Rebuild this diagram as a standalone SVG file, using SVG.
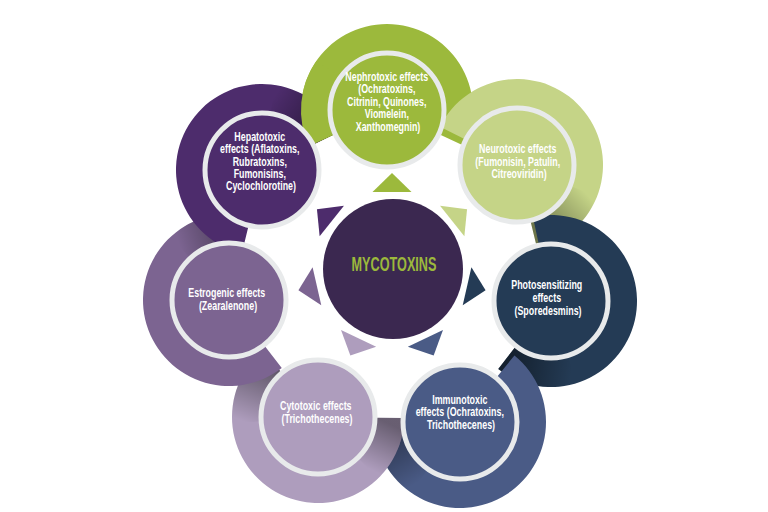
<svg xmlns="http://www.w3.org/2000/svg" width="768" height="512" viewBox="0 0 768 512">
<style>
.lbl{font-family:"Liberation Sans",Arial,sans-serif;font-weight:bold;font-size:12px;fill:#ffffff;text-anchor:middle}
.title{font-family:"Liberation Sans",Arial,sans-serif;font-weight:bold;font-size:19.5px;fill:#9cb93c;text-anchor:middle}
.inner{stroke:#e8eaeb;stroke-width:5}
</style>
<defs>
<path id="ring" d="M -77.94 36.34 A 86 86 0 1 1 77.94 36.34 L 51.66 24.09 A 57 57 0 1 0 -51.66 24.09 Z"/>
<linearGradient id="endShade" gradientUnits="userSpaceOnUse" x1="62.35" y1="-36" x2="67.66" y2="24.6">
<stop offset="0" stop-color="#000" stop-opacity="0"/>
<stop offset="1" stop-color="#000" stop-opacity="0.45"/>
</linearGradient>
<linearGradient id="startShade" gradientUnits="userSpaceOnUse" x1="-67.66" y1="-24.6" x2="-67.66" y2="24.6">
<stop offset="0" stop-color="#000" stop-opacity="0"/>
<stop offset="1" stop-color="#000" stop-opacity="0.4"/>
</linearGradient>
<path id="shadeEnd" d="M 74.48 -43 A 86 86 0 0 1 77.94 36.34 L 51.66 24.09 A 57 57 0 0 0 49.36 -28.5 Z" fill="url(#endShade)"/>
<path id="shadeStart" d="M -77.94 36.34 A 86 86 0 0 1 -80.81 -29.41 L -53.56 -19.49 A 57 57 0 0 0 -51.66 24.09 Z" fill="url(#startShade)"/>
</defs>
<rect width="768" height="512" fill="#ffffff"/>

<g id="rings">
<g transform="translate(387 110) rotate(0)"><use href="#ring" fill="#9cb93c"/></g>
<g transform="translate(517 165) rotate(51.43)"><use href="#ring" fill="#c5d487"/><use href="#shadeEnd"/></g>
<g transform="translate(551 301) rotate(102.86)"><use href="#ring" fill="#243b55"/><use href="#shadeEnd"/></g>
<g transform="translate(460 422) rotate(154.29)"><use href="#ring" fill="#4a5b86"/><use href="#shadeEnd"/></g>
<g transform="translate(318 417) rotate(205.71)"><use href="#ring" fill="#ae9dbd"/><use href="#shadeStart"/><use href="#shadeEnd"/></g>
<g transform="translate(229 300) rotate(257.14)"><use href="#ring" fill="#7c6491"/><use href="#shadeEnd"/></g>
<g transform="translate(262 170) rotate(308.57)"><use href="#ring" fill="#4d2c6c"/><use href="#shadeEnd"/></g>
<g transform="translate(387 110)"><path d="M -77.94 36.34 A 86 86 0 0 1 -70.45 -49.33 L -46.69 -32.69 A 57 57 0 0 0 -51.66 24.09 Z" fill="#9cb93c"/></g>
</g>

<g id="connectors">
<g transform="translate(392 269)">
<polygon points="0,-96 -19.5,-77 19.5,-77" fill="#9cb93c"/>
<polygon points="0,-96 -19.5,-77 19.5,-77" fill="#c5d487" transform="rotate(51.43)"/>
<polygon points="0,-96 -19.5,-77 19.5,-77" fill="#243b55" transform="rotate(102.86)"/>
<polygon points="0,-96 -19.5,-77 19.5,-77" fill="#4a5b86" transform="rotate(154.29)"/>
<polygon points="0,-96 -19.5,-77 19.5,-77" fill="#ae9dbd" transform="rotate(205.71)"/>
<polygon points="0,-96 -19.5,-77 19.5,-77" fill="#7c6491" transform="rotate(257.14)"/>
<polygon points="0,-96 -19.5,-77 19.5,-77" fill="#4d2c6c" transform="rotate(308.57)"/>
</g>
</g>

<g id="center">
<circle cx="393" cy="269" r="70" fill="#3b2850"/>
<text class="title" transform="translate(394 0) scale(0.65 1)" x="0" y="271">MYCOTOXINS</text>
</g>

<g id="node-nephrotoxic">
<circle class="inner" cx="387" cy="110" r="57" fill="#9cb93c"/>
<text class="lbl" transform="translate(388 0) scale(0.74 1)">
<tspan x="0" y="81">Nephrotoxic effects</tspan>
<tspan x="0" y="93.5">(Ochratoxins,</tspan>
<tspan x="0" y="106">Citrinin, Quinones,</tspan>
<tspan x="0" y="118.5">Viomelein,</tspan>
<tspan x="0" y="131">Xanthomegnin)</tspan>
</text>
</g>

<g id="node-neurotoxic">
<circle class="inner" cx="517" cy="165" r="57" fill="#c5d487"/>
<text class="lbl" transform="translate(519 0) scale(0.74 1)">
<tspan x="0" y="153.3">Neurotoxic effects</tspan>
<tspan x="0" y="165.7">(Fumonisin, Patulin,</tspan>
<tspan x="0" y="178">Citreoviridin)</tspan>
</text>
</g>

<g id="node-photosensitizing">
<circle class="inner" cx="551" cy="301" r="57" fill="#243b55"/>
<text class="lbl" transform="translate(548 0) scale(0.74 1)">
<tspan x="0" y="289">Photosensitizing</tspan>
<tspan x="0" y="302">effects</tspan>
<tspan x="0" y="315">(Sporedesmins)</tspan>
</text>
</g>

<g id="node-immunotoxic">
<circle class="inner" cx="460" cy="422" r="57" fill="#4a5b86"/>
<text class="lbl" transform="translate(461 0) scale(0.74 1)">
<tspan x="0" y="404">Immunotoxic</tspan>
<tspan x="0" y="416.5">effects (Ochratoxins,</tspan>
<tspan x="0" y="429">Trichothecenes)</tspan>
</text>
</g>

<g id="node-cytotoxic">
<circle class="inner" cx="318" cy="417" r="57" fill="#ae9dbd"/>
<text class="lbl" transform="translate(317 0) scale(0.74 1)">
<tspan x="0" y="410">Cytotoxic effects</tspan>
<tspan x="0" y="423">(Trichothecenes)</tspan>
</text>
</g>

<g id="node-estrogenic">
<circle class="inner" cx="229" cy="300" r="57" fill="#7c6491"/>
<text class="lbl" transform="translate(228 0) scale(0.74 1)">
<tspan x="0" y="297">Estrogenic effects</tspan>
<tspan x="0" y="310">(Zearalenone)</tspan>
</text>
</g>

<g id="node-hepatotoxic">
<circle class="inner" cx="262" cy="170" r="57" fill="#4d2c6c"/>
<text class="lbl" transform="translate(261 0) scale(0.74 1)">
<tspan x="0" y="141">Hepatotoxic</tspan>
<tspan x="0" y="153.3">effects (Aflatoxins,</tspan>
<tspan x="0" y="165.6">Rubratoxins,</tspan>
<tspan x="0" y="177.9">Fumonisins,</tspan>
<tspan x="0" y="190.2">Cyclochlorotine)</tspan>
</text>
</g>
</svg>
